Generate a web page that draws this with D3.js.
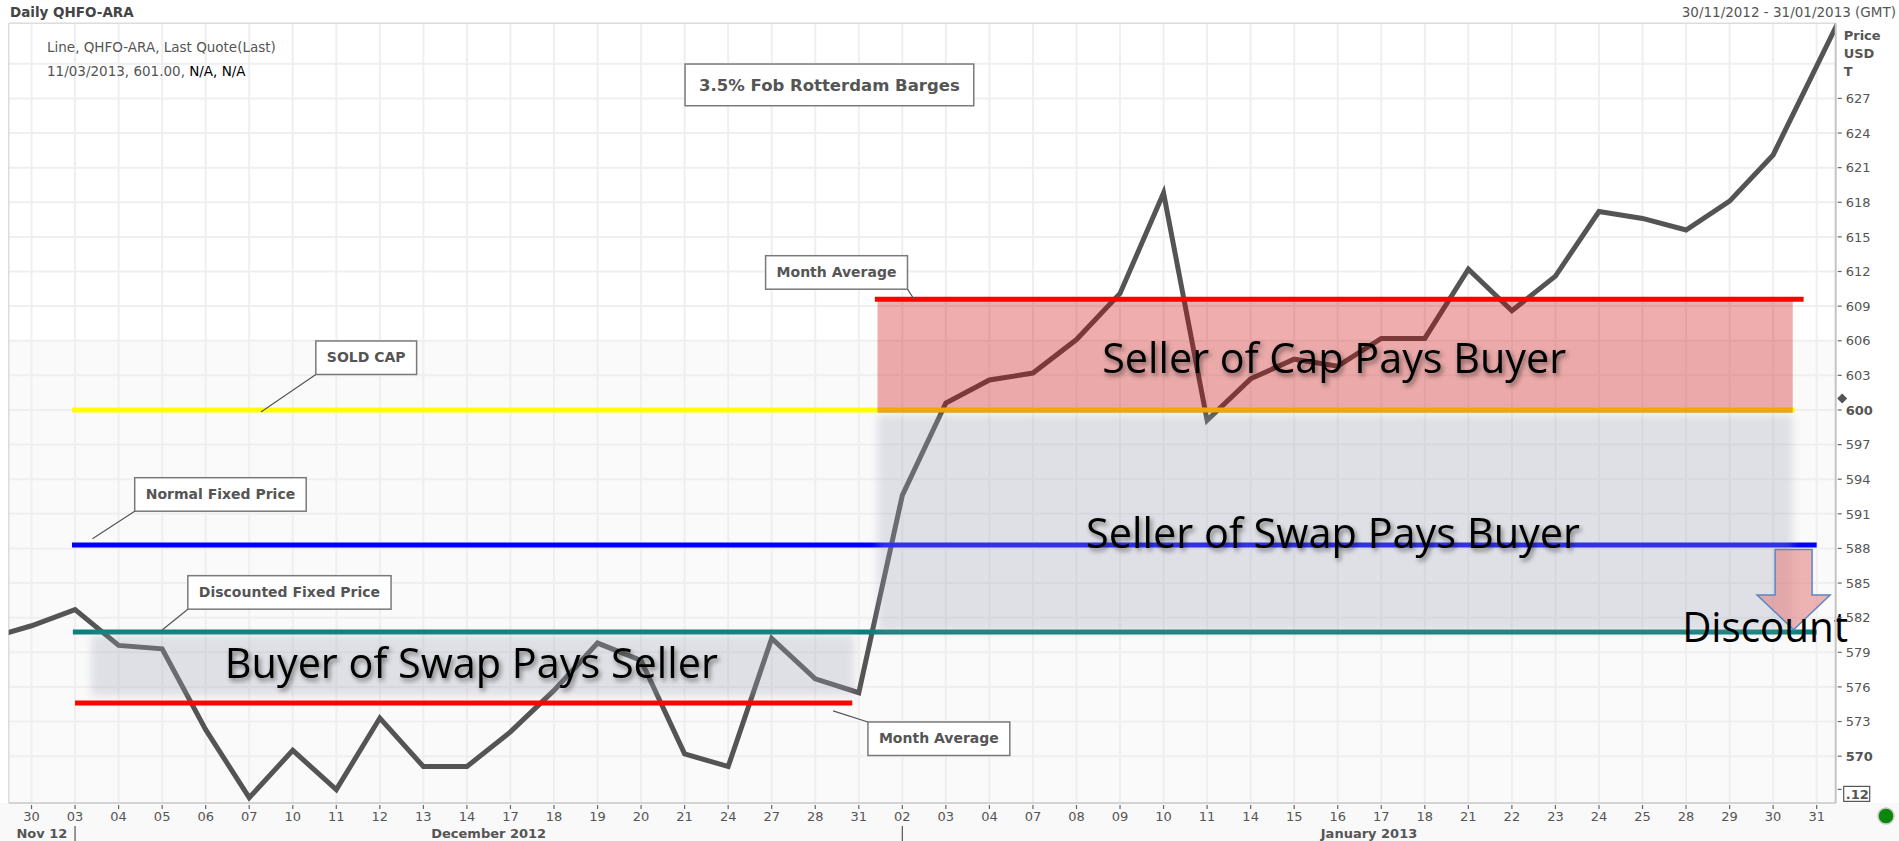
<!DOCTYPE html>
<html><head><meta charset="utf-8">
<script src="https://cdn.jsdelivr.net/npm/d3@7"></script>
<style>body{margin:0;background:#fff;} svg{display:block;}</style>
</head><body>
<svg id="c" width="1899" height="841"></svg>
<script>
// ---------------- DATA ----------------
const dayLabels = ["30","03","04","05","06","07","10","11","12","13","14","17","18","19","20","21","24","27","28","31",
  "02","03","04","07","08","09","10","11","14","15","16","17","18","21","22","23","24","25","28","29","30","31"];
const prices = [581.3,582.7,579.6,579.3,572.3,566.4,570.5,567.1,573.3,569.1,569.1,572.1,575.7,579.8,578.3,570.2,569.1,580.2,576.7,575.5,
  592.6,600.6,602.6,603.2,606.1,610.1,618.8,599.1,602.7,604.4,603.8,606.2,606.2,612.2,608.6,611.6,617.2,616.6,615.6,618.1,622.1,629.8];
const priceBefore = 580.2;   // 29 Nov (off chart, left)
const priceAfter = 637.5;    // 01 Feb (off chart, right)
const monthNames = ["Nov 12","December 2012","January 2013"];
const monthStartIdx = [0, 1, 20];
const yTicks = [570,573,576,579,582,585,588,591,594,597,600,603,606,609,612,615,618,621,624,627];
const yBoldTicks = [570,600];
const lastQuote = 601.0;
const cutTick = 567.12;

// reference lines (value, from index, to index)
const refNames  = ["SOLD CAP","Normal Fixed Price","Discounted Fixed Price","Month Average (Dec)","Month Average (Jan)"];
const refValues = [600, 588.3, 580.75, 574.6, 609.6];
const refFrom   = [0.93, 0.93, 0.95, 1.0, 19.37];
const refTo     = [40.5, 41.0, 41.0, 18.85, 40.7];

// zones
const zoneLabels = ["Buyer of Swap Pays Seller","Seller of Swap Pays Buyer","Seller of Cap Pays Buyer"];
const zoneLow    = [575.2, 580.75, 599.75];
const zoneHigh   = [580.5, 599.6, 609.6];
const zoneFrom   = [1.37, 19.43, 19.43];
const zoneTo     = [18.9, 40.45, 40.45];
const zoneTextIdx = [4.44, 24.22, 24.59];
const zoneTextVal = [576.78, 588.04, 603.2];

const discountLabel = "Discount";
const discountIdx = 37.91, discountVal = 579.9;
const arrowIdx = 40.47, arrowTop = 587.9, arrowHeadStart = 583.97, arrowTip = 580.95;

// callouts
const calloutTexts = ["3.5% Fob Rotterdam Barges","Month Average","SOLD CAP","Normal Fixed Price","Discounted Fixed Price","Month Average"];
const calloutIdx   = [15.01, 16.86, 6.53, 2.37, 3.59, 19.21];
const calloutVal   = [629.98, 613.37, 605.98, 594.13, 585.64, 572.96];
const leaderIdx    = [null, 20.28, 5.27, 1.40, 3.0, 18.41];
const leaderVal    = [null, 609.53, 599.83, 588.85, 580.94, 573.92];

// ---------------- STYLE ----------------
const refColors = ["#ffff00","#0000ff","#0b7f7b","#ff0000","#ff0000"];
const zoneFills = ["rgba(160,162,182,0.30)","rgba(160,162,182,0.30)","rgba(205,0,0,0.32)"];
const zoneBlur  = [true,true,false];
const zoneTextW = [493, 494, 464];
const leaderCorner = [null,"br","bl","bl","bl","tl"];

const svg = d3.select("#c");
const plot = {l:8.7, r:1835.7, t:23.3, b:803};
const x = d3.scaleLinear().domain([-0.524, 41.437]).range([plot.l, plot.r]);
const y = d3.scaleLinear().domain([565.94, 633.51]).range([plot.b, plot.t]);

const defs = svg.append("defs");
defs.append("clipPath").attr("id","pc").append("rect")
  .attr("x",plot.l).attr("y",plot.t).attr("width",plot.r-plot.l).attr("height",plot.b-plot.t);
defs.append("filter").attr("id","blur").attr("x","-10%").attr("y","-30%").attr("width","120%").attr("height","160%")
  .append("feGaussianBlur").attr("stdDeviation",4);
const ts = defs.append("filter").attr("id","tsh").attr("x","-10%").attr("y","-30%").attr("width","130%").attr("height","170%");
ts.append("feGaussianBlur").attr("in","SourceAlpha").attr("stdDeviation",2.5).attr("result","b");
ts.append("feOffset").attr("in","b").attr("dx",2).attr("dy",3).attr("result","o");
ts.append("feComponentTransfer").attr("in","o").attr("result","s").append("feFuncA").attr("type","linear").attr("slope",0.5);
const tm = ts.append("feMerge"); tm.append("feMergeNode").attr("in","s"); tm.append("feMergeNode").attr("in","SourceGraphic");

// backgrounds
svg.append("rect").attr("x",0).attr("y",plot.b).attr("width",1899).attr("height",841-plot.b).attr("fill","#f9f9f9");
svg.append("rect").attr("x",plot.l).attr("y",plot.t).attr("width",plot.r-plot.l).attr("height",plot.b-plot.t).attr("fill","#ffffff");
svg.append("rect").attr("x",plot.l).attr("y",y(606.07)).attr("width",plot.r-plot.l).attr("height",plot.b-y(606.07)).attr("fill","#fafafa");

// grid
const grid = svg.append("g").attr("clip-path","url(#pc)");
grid.selectAll("line.v").data(dayLabels).join("line")
  .attr("x1",(d,i)=>x(i)).attr("x2",(d,i)=>x(i)).attr("y1",plot.t).attr("y2",plot.b)
  .attr("stroke","#efefef").attr("stroke-width",2);
grid.selectAll("line.h").data(d3.range(570,631,3)).join("line")
  .attr("x1",plot.l).attr("x2",plot.r).attr("y1",d=>y(d)).attr("y2",d=>y(d))
  .attr("stroke","#efefef").attr("stroke-width",2);

// frame
svg.append("line").attr("x1",plot.l).attr("x2",plot.l).attr("y1",plot.t).attr("y2",plot.b).attr("stroke","#dcdcdc").attr("stroke-width",1.5);
svg.append("line").attr("x1",plot.l).attr("x2",plot.r).attr("y1",plot.t).attr("y2",plot.t).attr("stroke","#dcdcdc").attr("stroke-width",1.5);
svg.append("line").attr("x1",plot.l).attr("x2",plot.r).attr("y1",plot.b).attr("y2",plot.b).attr("stroke","#d4d4d4").attr("stroke-width",2);

// price line
const pts = [{i:-1,v:priceBefore}].concat(prices.map((v,i)=>({i,v}))).concat([{i:prices.length,v:priceAfter}]);
svg.append("g").attr("clip-path","url(#pc)").append("path")
  .attr("d", d3.line().x(d=>x(d.i)).y(d=>y(d.v))(pts))
  .attr("fill","none").attr("stroke","#545454").attr("stroke-width",5).attr("stroke-linejoin","miter");

// reference lines (yellow, blue, teal under zones)
const refG = svg.append("g");
[0,1,2,3].forEach(k=>{
  refG.append("line").attr("x1",x(refFrom[k])).attr("x2",x(refTo[k])).attr("y1",y(refValues[k])).attr("y2",y(refValues[k]))
    .attr("stroke",refColors[k]).attr("stroke-width",5);
});

// zones
zoneLabels.forEach((lab,k)=>{
  svg.append("rect").attr("x",x(zoneFrom[k])).attr("width",x(zoneTo[k])-x(zoneFrom[k]))
    .attr("y",y(zoneHigh[k])).attr("height",y(zoneLow[k])-y(zoneHigh[k]))
    .attr("fill",zoneFills[k]).attr("filter",zoneBlur[k]?"url(#blur)":null);
});
// Jan month average (on top of pink)
svg.append("line").attr("x1",x(refFrom[4])).attr("x2",x(refTo[4])).attr("y1",y(refValues[4])).attr("y2",y(refValues[4]))
  .attr("stroke",refColors[4]).attr("stroke-width",5);

// zone texts
zoneLabels.forEach((lab,k)=>{
  svg.append("text").attr("x",x(zoneTextIdx[k])).attr("y",y(zoneTextVal[k]))
    .attr("font-family","'Open Sans',sans-serif").attr("font-size",42).attr("fill","#000")
    .attr("textLength",zoneTextW[k]).attr("lengthAdjust","spacingAndGlyphs")
    .attr("filter","url(#tsh)").text(lab);
});

// discount arrow
const ax = x(arrowIdx);
const arrowPath = [[ax-18.5,y(arrowTop)],[ax+18.5,y(arrowTop)],[ax+18.5,y(arrowHeadStart)],[ax+36.5,y(arrowHeadStart)],
  [ax,y(arrowTip)],[ax-36.5,y(arrowHeadStart)],[ax-18.5,y(arrowHeadStart)]];
svg.append("path").attr("d",d3.line()(arrowPath)+"Z").attr("fill","rgba(225,120,120,0.55)").attr("stroke","#5b86c4").attr("stroke-width",1.5);
svg.append("text").attr("x",x(discountIdx)).attr("y",y(discountVal))
  .attr("font-family","'Open Sans',sans-serif").attr("font-size",42).attr("fill","#000")
  .attr("textLength",166).attr("lengthAdjust","spacingAndGlyphs").text(discountLabel);

// callouts
calloutTexts.forEach((t,k)=>{
  const g = svg.append("g");
  const big = k===0;
  const fs = big?16.5:14;
  const bx = x(calloutIdx[k]), by = y(calloutVal[k]);
  const bh = big?41.7:33.5;
  const txt = g.append("text").attr("font-family","'DejaVu Sans',sans-serif").attr("font-weight","bold")
    .attr("font-size",fs).attr("fill","#555").text(t);
  const tw = txt.node().getComputedTextLength();
  const pad = big?14:11;
  const bw = tw+2*pad;
  g.insert("rect","text").attr("x",bx).attr("y",by).attr("width",bw).attr("height",bh)
    .attr("fill","#fff").attr("stroke","#7a7a7a").attr("stroke-width",1.5);
  txt.attr("x",bx+pad).attr("y",by+(big?27:21.5));
  if(leaderIdx[k]!==null){
    const c = leaderCorner[k];
    const cx = c[1]==="r"?bx+bw:bx, cy = c[0]==="b"?by+bh:by;
    g.append("line").attr("x1",cx).attr("y1",cy).attr("x2",x(leaderIdx[k])).attr("y2",y(leaderVal[k]))
      .attr("stroke","#555").attr("stroke-width",1.2);
  }
});

// y axis
svg.append("line").attr("x1",plot.r).attr("x2",plot.r).attr("y1",plot.t).attr("y2",plot.b).attr("stroke","#c4c4c4").attr("stroke-width",2);
const ya = svg.append("g");
yTicks.forEach(v=>{
  ya.append("line").attr("x1",plot.r+2).attr("x2",plot.r+6).attr("y1",y(v)).attr("y2",y(v)).attr("stroke","#666").attr("stroke-width",1.2);
  ya.append("text").attr("x",plot.r+10).attr("y",y(v)).attr("dy","0.36em")
    .attr("font-family","'DejaVu Sans',sans-serif").attr("font-size",13)
    .attr("font-weight",yBoldTicks.includes(v)?"bold":"normal").attr("fill","#555").text(v);
});
ya.append("line").attr("x1",plot.r+2).attr("x2",plot.r+6).attr("y1",y(cutTick)).attr("y2",y(cutTick)).attr("stroke","#666").attr("stroke-width",1.2);
ya.append("rect").attr("x",plot.r+8).attr("y",y(cutTick)-3).attr("width",26).attr("height",15).attr("fill","#fff").attr("stroke","#555").attr("stroke-width",1.2);
ya.append("text").attr("x",plot.r+10).attr("y",y(cutTick)+9.5).attr("font-family","'DejaVu Sans',sans-serif").attr("font-size",13)
  .attr("font-weight","bold").attr("fill","#555").text("." + String(cutTick.toFixed(2)).split(".")[1]);
const dy0 = y(lastQuote);
ya.append("path").attr("d",`M${plot.r+6.5},${dy0-5}L${plot.r+11.5},${dy0}L${plot.r+6.5},${dy0+5}L${plot.r+1.5},${dy0}Z`).attr("fill","#555");
["Price","USD","T"].forEach((t,k)=>{
  ya.append("text").attr("x",plot.r+8).attr("y",40+k*18).attr("font-family","'DejaVu Sans',sans-serif")
    .attr("font-size",13).attr("font-weight","bold").attr("fill","#555").text(t);
});

// x axis
const xa = svg.append("g");
dayLabels.forEach((d,i)=>{
  xa.append("line").attr("x1",x(i)).attr("x2",x(i)).attr("y1",plot.b+2).attr("y2",plot.b+6).attr("stroke","#666").attr("stroke-width",1.2);
  xa.append("text").attr("x",x(i)).attr("y",821).attr("text-anchor","middle")
    .attr("font-family","'DejaVu Sans',sans-serif").attr("font-size",13).attr("fill","#555").text(d);
});
monthNames.forEach((m,k)=>{
  const x0 = k===0?plot.l:x(monthStartIdx[k]);
  const x1 = k<monthNames.length-1?x(monthStartIdx[k+1]):plot.r;
  xa.append("text").attr("x",(x0+x1)/2).attr("y",838).attr("text-anchor","middle")
    .attr("font-family","'DejaVu Sans',sans-serif").attr("font-size",13).attr("font-weight","bold").attr("fill","#555").text(m);
  if(k>0) xa.append("line").attr("x1",x0).attr("x2",x0).attr("y1",826).attr("y2",841).attr("stroke","#555").attr("stroke-width",1.2);
});

// header texts
svg.append("text").attr("x",10).attr("y",17).attr("font-family","'DejaVu Sans',sans-serif").attr("font-size",13.5)
  .attr("font-weight","bold").attr("fill","#444").text("Daily QHFO-ARA");
svg.append("text").attr("x",1896).attr("y",17).attr("text-anchor","end").attr("font-family","'DejaVu Sans',sans-serif")
  .attr("font-size",13.5).attr("fill","#555").text("30/11/2012 - 31/01/2013 (GMT)");
svg.append("text").attr("x",47).attr("y",52).attr("font-family","'DejaVu Sans',sans-serif").attr("font-size",13.5)
  .attr("fill","#555").text("Line, QHFO-ARA, Last Quote(Last)");
const l2 = svg.append("text").attr("x",47).attr("y",76).attr("font-family","'DejaVu Sans',sans-serif").attr("font-size",13.5).attr("fill","#555");
l2.append("tspan").text("11/03/2013, " + lastQuote.toFixed(2) + ", ");
l2.append("tspan").attr("fill","#000").text("N/A, N/A");

// status dot
svg.append("circle").attr("cx",1886).attr("cy",816).attr("r",8).attr("fill","#0b870b").attr("stroke","#c8c8c8").attr("stroke-width",1.5);
</script>
</body></html>
